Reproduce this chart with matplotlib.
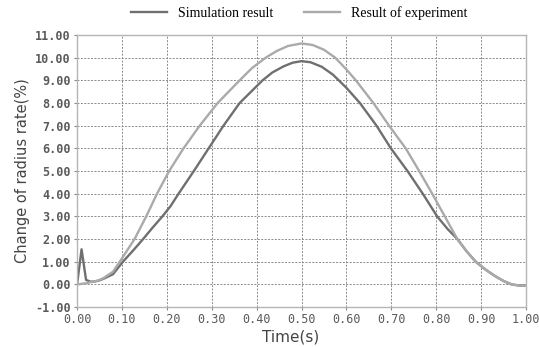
import matplotlib
matplotlib.use("Agg")
import matplotlib.pyplot as plt

# 仿真结果
sim_t = [0.00, 0.01, 0.02, 0.03, 0.04, 0.05, 0.06, 0.08, 0.102, 0.125, 0.147, 0.168,
         0.19, 0.208, 0.226, 0.26, 0.293, 0.326, 0.362, 0.39, 0.413, 0.435, 0.46,
         0.48, 0.50, 0.52, 0.545, 0.57, 0.60, 0.63, 0.667, 0.699, 0.736, 0.77,
         0.802, 0.825, 0.847, 0.868, 0.888, 0.91, 0.93, 0.95, 0.968, 0.985, 1.00]
sim_v = [0.00, 1.55, 0.20, 0.12, 0.13, 0.18, 0.26, 0.45, 1.00, 1.50, 2.00, 2.50,
         3.00, 3.45, 4.00, 5.00, 6.00, 7.00, 8.00, 8.55, 9.00, 9.35, 9.62,
         9.78, 9.85, 9.80, 9.60, 9.25, 8.67, 8.00, 7.00, 6.00, 5.00, 4.00,
         3.00, 2.45, 2.00, 1.45, 1.00, 0.65, 0.38, 0.15, 0.00, -0.05, -0.05]

# 实验结果
exp_t = [0.00, 0.02, 0.03, 0.045, 0.058, 0.08, 0.095, 0.128, 0.154, 0.178, 0.205,
         0.237, 0.273, 0.313, 0.362, 0.39, 0.42, 0.445, 0.47, 0.50, 0.525, 0.55,
         0.575, 0.60, 0.621, 0.66, 0.695, 0.732, 0.762, 0.791, 0.819, 0.847,
         0.868, 0.888, 0.91, 0.93, 0.95, 0.968, 0.985, 1.00]
exp_v = [0.00, 0.05, 0.10, 0.16, 0.27, 0.56, 1.00, 2.00, 3.00, 4.00, 5.00,
         6.00, 7.00, 8.00, 9.00, 9.55, 10.00, 10.3, 10.52, 10.63, 10.56, 10.35,
         10.00, 9.48, 9.00, 8.00, 7.00, 6.00, 5.00, 4.00, 3.00, 2.00,
         1.45, 1.00, 0.65, 0.38, 0.15, 0.00, -0.05, -0.05]

x_ticks = [i / 10 for i in range(11)]
y_ticks = list(range(-1, 12))

fig = plt.figure(figsize=(5.39, 3.47), dpi=100)
ax = fig.add_axes([0.143, 0.115, 0.833, 0.784])

ax.plot(sim_t, sim_v, color="#6f6f6f", lw=1.7, label="Simulation result")
ax.plot(exp_t, exp_v, color="#aaaaaa", lw=1.7, label="Result of experiment")

ax.set_xlim(0, 1)
ax.set_ylim(-1, 11)
ax.set_xticks(x_ticks)
ax.set_yticks(y_ticks)
ax.set_xticklabels([f"{v:.2f}" for v in x_ticks], family="DejaVu Sans Mono",
                   fontsize=8.5, color="#5a5a5a")
ax.set_yticklabels([f"{v:.2f}" for v in y_ticks], family="DejaVu Sans Mono",
                   fontsize=8.5, color="#5a5a5a", fontweight="bold")
ax.tick_params(length=2.5, width=0.8, color="#888888", pad=2)

ax.grid(True, color="#8a8a8a", linestyle=(0, (2, 1.5)), linewidth=0.7)
for s in ax.spines.values():
    s.set_color("#b5b5b5")
    s.set_linewidth(1.0)

ax.set_xlabel("Time(s)", fontsize=11, color="#444444")
ax.xaxis.set_label_coords(0.475, -0.11)
ax.xaxis.label.set_va("center")
ax.set_ylabel("Change of radius rate(%)", fontsize=10.5, color="#444444", labelpad=4)

ax.legend(loc="lower center", bbox_to_anchor=(0.495, 1.0), ncol=2, frameon=False,
          prop={"family": "Liberation Serif", "size": 10}, handlelength=2.6,
          columnspacing=2.2, borderaxespad=0.7)

fig.savefig("out.png", dpi=100)
